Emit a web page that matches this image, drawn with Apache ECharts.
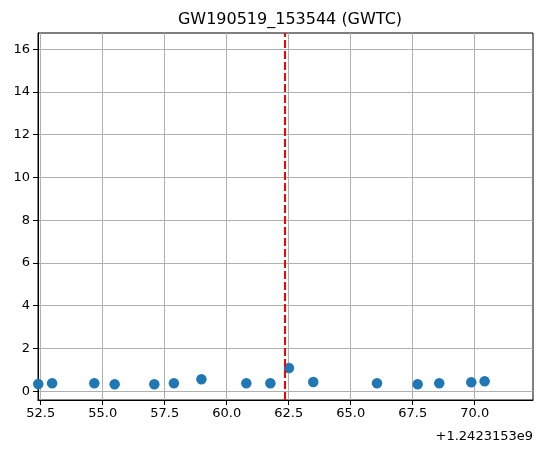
<!DOCTYPE html>
<html>
<head>
<meta charset="utf-8">
<script src="https://cdn.jsdelivr.net/npm/echarts@6/dist/echarts.min.js"></script>
<style>
html, body { margin: 0; padding: 0; background: #fff; }
#chart { width: 543px; height: 453px; }
</style>
</head>
<body>
<div id="chart"></div>
<script>
// times are offsets from 1.2423153e9 (GPS seconds)
var timeOffsets = [52.40, 52.96, 54.66, 55.48, 57.08, 57.87, 58.98, 60.79, 61.76,
  62.51, 63.49, 66.06, 67.70, 68.57, 69.86, 70.40];
var values = [0.34, 0.37, 0.37, 0.33, 0.33, 0.37, 0.56, 0.37, 0.37,
  1.09, 0.43, 0.37, 0.33, 0.37, 0.42, 0.47];
var eventTime = 62.34;
var xTicks = [52.5, 55.0, 57.5, 60.0, 62.5, 65.0, 67.5, 70.0];
var yTicks = [0, 2, 4, 6, 8, 10, 12, 14, 16];

var font = 'DejaVu Sans';
var chart = echarts.init(document.getElementById('chart'));

var pts = [];
for (var i = 0; i < timeOffsets.length; i++) {
  pts.push([timeOffsets[i], values[i]]);
}

chart.setOption({
  animation: false,
  title: {
    text: 'GW190519_153544 (GWTC)',
    left: 285, top: 7, textAlign: 'center',
    textStyle: { fontFamily: font, fontSize: 16, fontWeight: 'normal', color: '#000' }
  },
  grid: {
    left: 38, right: 10, top: 33, bottom: 53,
    show: true, borderColor: '#000', borderWidth: 1
  },
  xAxis: {
    type: 'value',
    min: 52.39, max: 72.35,
    axisLine: { show: true, onZero: false, lineStyle: { color: '#000' } },
    axisTick: { show: true, length: 5, customValues: xTicks, lineStyle: { color: '#000' } },
    axisLabel: {
      customValues: xTicks, margin: 7,
      fontFamily: font, fontSize: 13, color: '#000',
      formatter: function (v) { return v.toFixed(1); }
    },
    splitLine: { show: true, lineStyle: { color: '#b0b0b0', width: 1 } }
  },
  yAxis: {
    type: 'value',
    min: -0.41, max: 16.76,
    axisLine: { show: true, onZero: false, lineStyle: { color: '#000' } },
    axisTick: { show: true, length: 5, customValues: yTicks, lineStyle: { color: '#000' } },
    axisLabel: { customValues: yTicks, margin: 8, fontFamily: font, fontSize: 13, color: '#000' },
    splitLine: { show: true, lineStyle: { color: '#b0b0b0', width: 1 } }
  },
  graphic: [{
    type: 'text', right: 10, top: 430,
    style: { text: '+1.2423153e9', font: '13px "DejaVu Sans"', fill: '#000' }
  }],
  series: [{
    type: 'scatter',
    data: pts,
    symbolSize: 10.5,
    clip: false,
    itemStyle: { color: '#1f77b4', opacity: 1 },
    markLine: {
      silent: true,
      symbol: 'none',
      label: { show: false },
      lineStyle: { color: '#ff0000', width: 2, type: [8, 3] },
      data: [{ xAxis: eventTime }]
    }
  }]
});
</script>
</body>
</html>
